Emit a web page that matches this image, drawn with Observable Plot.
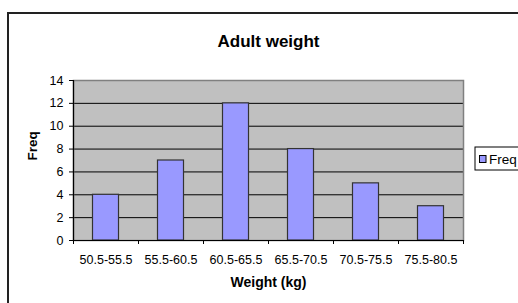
<!DOCTYPE html>
<html>
<head>
<meta charset="utf-8">
<script src="https://cdn.jsdelivr.net/npm/d3@7"></script>
<script src="https://cdn.jsdelivr.net/npm/@observablehq/plot@0.6"></script>
<style>
  html, body { margin: 0; padding: 0; background: #fff; overflow: hidden; }
  #chart { width: 518px; height: 303px; overflow: hidden; }
</style>
</head>
<body>
<div id="chart"></div>
<script>
const categories = ["50.5-55.5", "55.5-60.5", "60.5-65.5", "65.5-70.5", "70.5-75.5", "75.5-80.5"];
const freq = [4, 7, 12, 8, 5, 3];
const yTicks = [0, 2, 4, 6, 8, 10, 12, 14];
const title = "Adult weight";
const xTitle = "Weight (kg)";
const yTitle = "Freq";
const seriesName = "Freq";

const data = categories.map((c, i) => ({i, category: c, freq: freq[i]}));
const font = "'Liberation Sans', Arial, sans-serif";

const plot = Plot.plot({
  width: 518,
  height: 303,
  marginLeft: 73,
  marginRight: 55,
  marginTop: 80,
  marginBottom: 63,
  style: {fontFamily: font, fontSize: "12px", color: "#000", background: "#fff", overflow: "visible"},
  x: {type: "linear", domain: [0, categories.length], axis: null},
  y: {domain: [0, 14], axis: null},
  marks: [
    Plot.frame({fill: "#C0C0C0", stroke: null}),
    Plot.gridY(yTicks.filter(t => t > 0 && t < 14), {stroke: "#000", strokeOpacity: 1, strokeWidth: 1}),
    Plot.frame({stroke: "#808080", strokeWidth: 1.5}),
    Plot.rectY(data, {x1: d => d.i + 0.3, x2: d => d.i + 0.7, y: "freq", fill: "#9999FF", stroke: "#333", strokeWidth: 1.2}),
    Plot.ruleX([0], {stroke: "#000", strokeWidth: 1.2}),
    Plot.ruleY([0], {stroke: "#000", strokeWidth: 1.2}),
    Plot.axisY({ticks: yTicks, tickSize: 4, tickPadding: 6, fontSize: 12.5, label: null, stroke: "#000"}),
    Plot.axisX({ticks: d3.range(categories.length + 1), tickSize: 4, text: null, label: null, stroke: "#000"}),
    Plot.axisX({ticks: categories.map((c, i) => i + 0.5), tickFormat: v => categories[Math.floor(v)], tickSize: 0, tickPadding: 15, fontSize: 12.5, label: null}),
    Plot.text([title], {frameAnchor: "top", dy: -46, fontSize: 17, fontWeight: "bold", fill: "#000"}),
    Plot.text([xTitle], {frameAnchor: "bottom", dy: 46, fontSize: 14, fontWeight: "bold", fill: "#000"}),
    Plot.text([yTitle], {frameAnchor: "left", dx: -41, rotate: -90, fontSize: 13.5, fontWeight: "bold", fill: "#000"})
  ]
});

const svg = d3.select(plot);
// outer chart border
svg.append("rect")
  .attr("x", 8).attr("y", 13).attr("width", 540).attr("height", 320)
  .attr("fill", "none").attr("stroke", "#222").attr("stroke-width", 2);
// legend
const lg = svg.append("g");
lg.append("rect").attr("x", 475).attr("y", 147).attr("width", 60).attr("height", 23)
  .attr("fill", "#fff").attr("stroke", "#000").attr("stroke-width", 1);
lg.append("rect").attr("x", 479.5).attr("y", 155.5).attr("width", 6.5).attr("height", 7)
  .attr("fill", "#9999FF").attr("stroke", "#000").attr("stroke-width", 1);
lg.append("text").attr("x", 489).attr("y", 164).attr("font-size", 13.5)
  .attr("text-anchor", "start")
  .attr("font-family", font).attr("fill", "#000").text(seriesName);

document.getElementById("chart").appendChild(plot);
</script>
</body>
</html>
